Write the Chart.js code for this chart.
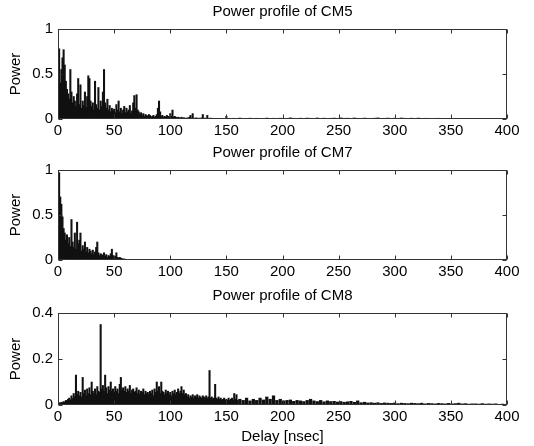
<!DOCTYPE html>
<html>
<head>
<meta charset="utf-8">
<script src="https://cdn.jsdelivr.net/npm/chart.js@4.4.1/dist/chart.umd.min.js"></script>
<style>
  html, body { margin: 0; padding: 0; background: #fff; }
  #wrap { position: relative; width: 534px; height: 446px; }
  .panel { position: absolute; left: 0; }
</style>
</head>
<body>
<div id="wrap">
  <canvas class="panel" id="cm5" width="534" height="145" style="top:0"></canvas>
  <canvas class="panel" id="cm7" width="534" height="145" style="top:141px"></canvas>
  <canvas class="panel" id="cm8" width="534" height="162" style="top:284px"></canvas>
</div>
<script>
'use strict';

// delay axis (nsec)
const xTicks = [0, 50, 100, 150, 200, 250, 300, 350, 400];

// CM5: 1 ns samples from 0 to 150, then 3 ns samples from 153 to 351
const cm5Head = [
  0.45, 0.78, 0.4, 0.55, 0.68, 0.77, 0.6, 0.42, 0.33, 0.28,
  0.22, 0.55, 0.3, 0.18, 0.25, 0.2, 0.14, 0.28, 0.45, 0.16,
  0.38, 0.12, 0.2, 0.15, 0.3, 0.13, 0.25, 0.48, 0.45, 0.2,
  0.14, 0.18, 0.1, 0.42, 0.16, 0.12, 0.35, 0.1, 0.2, 0.14,
  0.3, 0.55, 0.18, 0.12, 0.22, 0.1, 0.15, 0.08, 0.12, 0.09,
  0.11, 0.07, 0.16, 0.1, 0.2, 0.08, 0.12, 0.06, 0.1, 0.14,
  0.07, 0.12, 0.08, 0.1, 0.15, 0.06, 0.09, 0.18, 0.26, 0.12,
  0.27, 0.1, 0.08, 0.05, 0.07, 0.04, 0.06, 0.03, 0.05, 0.04,
  0.03, 0.05, 0.04, 0.02, 0.03, 0.04, 0.02, 0.03, 0.05, 0.12,
  0.2, 0.08, 0.03, 0.04, 0.02, 0.03, 0.02, 0.04, 0.03, 0.02,
  0.06, 0.03, 0.1, 0.02, 0.03, 0.02, 0.01, 0.02, 0.015, 0.01,
  0.02, 0.01, 0.015, 0.01, 0.008, 0.012, 0.01, 0.02, 0.04, 0.01,
  0.06, 0.01, 0.008, 0.012, 0.01, 0.006, 0.01, 0.008, 0.012, 0.05,
  0.008, 0.01, 0.006, 0.04, 0.008, 0.005, 0.01, 0.006, 0.008, 0.005,
  0.006, 0.005, 0.008, 0.004, 0.006, 0.005, 0.004, 0.006, 0.004, 0.005, 0.03
];
const cm5Tail = [
  0.006, 0.008, 0.005, 0.01, 0.007, 0.006, 0.009, 0.005, 0.008, 0.006,
  0.007, 0.01, 0.006, 0.008, 0.005, 0.009, 0.007, 0.006, 0.012, 0.008,
  0.006, 0.009, 0.007, 0.01, 0.008, 0.006, 0.011, 0.007, 0.009, 0.006,
  0.008, 0.01, 0.007, 0.012, 0.008, 0.009, 0.006, 0.011, 0.008, 0.007,
  0.01, 0.008, 0.006, 0.009, 0.012, 0.007, 0.008, 0.01, 0.006, 0.009,
  0.007, 0.011, 0.008, 0.006, 0.009, 0.007, 0.01, 0.006, 0.008, 0.005,
  0.007, 0.006, 0.008, 0.005, 0.006, 0.004, 0.005
];

// CM7: 1 ns samples from 0 to 60, then 3 ns samples from 63 to 150
const cm7Head = [
  0.55, 0.97, 0.7, 0.62, 0.48, 0.35, 0.3, 0.22, 0.28, 0.18,
  0.25, 0.15, 0.45, 0.2, 0.14, 0.3, 0.12, 0.42, 0.18, 0.22,
  0.3, 0.1, 0.16, 0.12, 0.2, 0.09, 0.14, 0.08, 0.12, 0.1,
  0.07, 0.11, 0.06, 0.09, 0.14, 0.2, 0.08, 0.05, 0.07, 0.06,
  0.05, 0.08, 0.04, 0.06, 0.03, 0.05, 0.04, 0.07, 0.12, 0.05,
  0.03, 0.04, 0.08, 0.03, 0.02, 0.03, 0.02, 0.015, 0.01, 0.012, 0.008
];
const cm7Tail = [
  0.006, 0.005, 0.007, 0.004, 0.006, 0.005, 0.004, 0.006, 0.005, 0.004,
  0.005, 0.006, 0.004, 0.005, 0.004, 0.006, 0.005, 0.004, 0.005, 0.004,
  0.006, 0.004, 0.005, 0.004, 0.005, 0.004, 0.006, 0.004, 0.005, 0.004
];

// CM8: 1 ns samples from 0 to 160, then 3 ns samples from 162 to 396
const cm8Head = [
  0.005, 0.01, 0.008, 0.012, 0.01, 0.015, 0.012, 0.02, 0.018, 0.025,
  0.03, 0.022, 0.04, 0.028, 0.05, 0.035, 0.13, 0.045, 0.06, 0.04,
  0.055, 0.035, 0.12, 0.05, 0.065, 0.04, 0.07, 0.05, 0.075, 0.045,
  0.1, 0.06, 0.05, 0.07, 0.045, 0.08, 0.06, 0.055, 0.35, 0.07,
  0.085, 0.06, 0.13, 0.075, 0.05, 0.08, 0.065, 0.1, 0.06, 0.07,
  0.055, 0.08, 0.06, 0.07, 0.05, 0.09, 0.12, 0.065, 0.075, 0.06,
  0.08, 0.055, 0.07, 0.06, 0.085, 0.05, 0.065, 0.07, 0.055, 0.06,
  0.075, 0.05, 0.065, 0.045, 0.06, 0.055, 0.07, 0.045, 0.06, 0.05,
  0.055, 0.045, 0.06, 0.05, 0.065, 0.04, 0.07, 0.055, 0.1, 0.06,
  0.08, 0.05, 0.1, 0.06, 0.055, 0.045, 0.065, 0.05, 0.06, 0.045,
  0.055, 0.04, 0.06, 0.05, 0.065, 0.045, 0.055, 0.07, 0.05, 0.06,
  0.08, 0.05, 0.065, 0.045, 0.05, 0.035, 0.045, 0.03, 0.04, 0.035,
  0.045, 0.03, 0.04, 0.035, 0.045, 0.03, 0.04, 0.035, 0.03, 0.04,
  0.035, 0.03, 0.04, 0.03, 0.035, 0.15, 0.03, 0.035, 0.025, 0.03,
  0.09, 0.03, 0.025, 0.035, 0.025, 0.03, 0.02, 0.025, 0.03, 0.02,
  0.025, 0.02, 0.03, 0.02, 0.025, 0.03, 0.02, 0.05, 0.025, 0.045, 0.02
];
const cm8Tail = [
  0.025, 0.02, 0.03, 0.018, 0.025, 0.02, 0.03, 0.022, 0.035, 0.025,
  0.04, 0.02, 0.025, 0.018, 0.02, 0.022, 0.016, 0.02, 0.018, 0.015,
  0.02, 0.025, 0.018, 0.015, 0.02, 0.014, 0.018, 0.015, 0.016, 0.013,
  0.015, 0.012, 0.014, 0.016, 0.012, 0.018, 0.01, 0.012, 0.009, 0.01,
  0.008, 0.01, 0.007, 0.009, 0.008, 0.007, 0.009, 0.006, 0.008, 0.007,
  0.006, 0.008, 0.007, 0.006, 0.008, 0.005, 0.007, 0.006, 0.005, 0.007,
  0.006, 0.005, 0.007, 0.005, 0.006, 0.008, 0.005, 0.006, 0.004, 0.005,
  0.005, 0.004, 0.006, 0.004, 0.005, 0.004, 0.005, 0.003, 0.004
];

const fontFamily = "'Liberation Sans', Arial, Helvetica, sans-serif";
const fontSize = 15;
const stemColor = '#111';

// box around the plot with inward ticks on all four sides
const framePlugin = {
  id: 'frame',
  afterDraw(chart) {
    const { ctx, chartArea: a, scales } = chart;
    const l = Math.round(a.left) + 0.5;
    const r = Math.round(a.right) - 0.5;
    const t = Math.round(a.top) + 0.5;
    const b = Math.round(a.bottom) - 0.5;
    ctx.save();
    ctx.strokeStyle = '#333';
    ctx.lineWidth = 1;
    ctx.strokeRect(l, t, r - l, b - t);
    ctx.beginPath();
    scales.x.ticks.forEach(tk => {
      const px = Math.round(scales.x.getPixelForValue(tk.value)) + 0.5;
      ctx.moveTo(px, b); ctx.lineTo(px, b - 4);
      ctx.moveTo(px, t); ctx.lineTo(px, t + 4);
    });
    scales.y.ticks.forEach(tk => {
      const py = Math.round(scales.y.getPixelForValue(tk.value)) + 0.5;
      ctx.moveTo(l, py); ctx.lineTo(l + 4, py);
      ctx.moveTo(r, py); ctx.lineTo(r - 4, py);
    });
    ctx.stroke();
    ctx.restore();
  }
};

function stems(values, start, step) {
  return values.map((v, i) => ({ x: start + i * step, y: v }));
}

function makePanel(id, title, head, tail, tailStart, yMax, yStep, xTitle, xHeight) {
  new Chart(document.getElementById(id), {
    type: 'bar',
    data: {
      datasets: [
        { data: stems(head, 0, 1), backgroundColor: stemColor, barThickness: 1.4, borderWidth: 0 },
        { data: stems(tail, tailStart, 3), backgroundColor: stemColor, barThickness: 2.6, borderWidth: 0 }
      ]
    },
    options: {
      responsive: false,
      animation: false,
      layout: { padding: { left: 0, right: 27, top: 0, bottom: 0 } },
      datasets: { bar: { grouped: false } },
      plugins: {
        legend: { display: false },
        tooltip: { enabled: false },
        title: {
          display: true,
          text: title,
          fullSize: false,
          color: '#000',
          font: { family: fontFamily, size: fontSize, weight: 'normal' },
          padding: { top: 3, bottom: 8 }
        }
      },
      scales: {
        x: {
          type: 'linear',
          min: 0,
          max: 400,
          offset: false,
          afterBuildTicks: s => { s.ticks = xTicks.map(v => ({ value: v })); },
          ticks: { padding: 3, maxRotation: 0, color: '#000', font: { family: fontFamily, size: fontSize } },
          grid: { display: false, drawTicks: false },
          border: { display: false },
          title: {
            display: !!xTitle,
            text: xTitle || '',
            color: '#000',
            font: { family: fontFamily, size: fontSize },
            padding: { top: 0, bottom: 0 }
          },
          afterFit: s => { s.height = xHeight; }
        },
        y: {
          min: 0,
          max: yMax,
          ticks: {
            stepSize: yStep,
            padding: 5,
            color: '#000',
            font: { family: fontFamily, size: fontSize },
            callback: v => String(Number(v.toFixed(2)))
          },
          grid: { display: false, drawTicks: false },
          border: { display: false },
          title: {
            display: true,
            text: 'Power',
            color: '#000',
            font: { family: fontFamily, size: fontSize },
            padding: { top: 7, bottom: 0 }
          },
          afterFit: s => { s.width = 58; }
        }
      }
    },
    plugins: [framePlugin]
  });
}

makePanel('cm5', 'Power profile of CM5', cm5Head, cm5Tail, 153, 1, 0.5, null, 26);
makePanel('cm7', 'Power profile of CM7', cm7Head, cm7Tail, 63, 1, 0.5, null, 26);
makePanel('cm8', 'Power profile of CM8', cm8Head, cm8Tail, 162, 0.4, 0.2, 'Delay [nsec]', 41);
</script>
</body>
</html>
